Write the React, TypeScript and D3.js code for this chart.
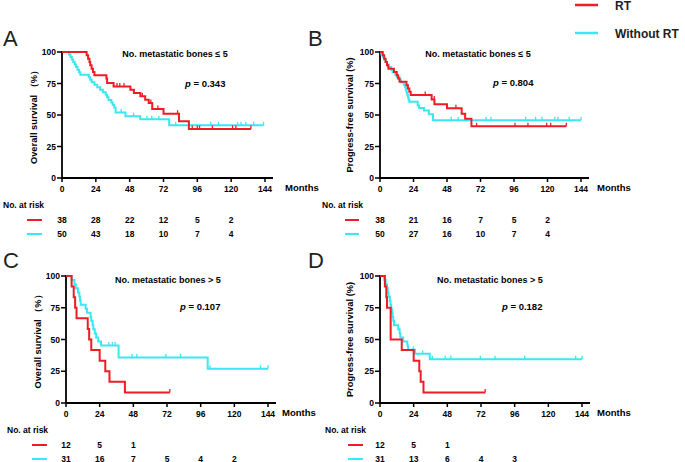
import React from 'react';
import * as d3 from 'd3';

// [month, survival %] after each step; last pair = end of follow-up
const osLowRT = [[0, 100], [17.5, 97.4], [18.5, 94.7], [19.5, 92.1], [20, 89.5], [21, 86.8], [22, 84.2], [23, 81.6], [31.5, 78.9], [32, 75.4], [36.6, 72.7], [48.5, 70], [51, 67.5], [55.6, 64.8], [59, 62.2], [61.5, 59.5], [64, 54.8], [72, 51], [83, 45], [90, 38.9], [134, 38.9]];
const osLowNoRT = [[0, 100], [5, 98], [6, 96], [7, 94], [8, 92], [9, 90], [10, 88], [11, 86], [12, 84], [13, 82], [19, 80], [20, 78], [21, 76], [23, 74], [25, 72], [27, 70], [29, 68], [31, 66], [32, 64], [33, 62], [35, 60], [36, 58], [37, 56], [38, 52], [45, 49], [55.5, 46.6], [76, 41.8], [143, 41.8]];
const osLowRTCens = [39, 41, 44, 57, 63, 68, 82, 92.4, 96, 97.6, 106.7, 121, 123.3, 134];
const osLowNoRTCens = [42, 50.8, 60.3, 63.7, 68.7, 80.6, 105.5, 111, 124.5, 127, 130.4, 136, 143];

const pfsLowRT = [[0, 100], [2, 97.4], [3, 94.7], [4, 92.1], [5, 89.5], [6, 86.8], [10, 84.2], [12, 81.6], [13, 78.9], [14, 76.3], [19, 73.7], [20, 71], [21, 68.4], [22, 65.8], [37, 62.4], [39, 58.5], [48, 55.3], [58.5, 51], [61, 47], [65.5, 41], [133.5, 41]];
const pfsLowNoRT = [[0, 100], [1, 98], [2, 96], [3, 94], [4, 92], [5, 90], [6, 88], [8, 86], [9, 84], [11, 82], [12, 80], [14, 78], [15, 76], [17, 74], [18, 72], [18.5, 70], [19, 68], [19.5, 66], [20, 64], [20.5, 62], [21, 60.5], [27, 57.5], [28, 55.5], [31.5, 53.5], [35, 50.5], [38, 45.8], [144, 45.8]];
const pfsLowRTCens = [32.4, 38.9, 54.4, 69.2, 96.7, 106, 119.4, 122.3, 133.5];
const pfsLowNoRTCens = [51, 56, 76, 79.5, 104.4, 111.5, 116, 125.2, 127.5, 135.5, 144];

const osHighRT = [[0, 100], [4, 91.7], [5.5, 83.3], [6.5, 75], [7.5, 66.7], [15.5, 58.3], [16.5, 50], [18, 41.7], [24, 33.3], [28, 25], [31, 16.7], [42, 8.3], [74, 8.3]];
const osHighNoRT = [[0, 100], [4, 96.8], [6, 93.5], [7, 90.3], [8.5, 87.1], [9.5, 83.9], [10, 80.6], [10.5, 77.4], [14, 74.2], [15, 71], [17.5, 67.7], [18, 64.5], [19, 61.3], [19.5, 58.1], [20.5, 54.8], [21.5, 51.6], [23, 48.4], [25, 45.2], [37.5, 35.9], [101, 26.9], [144, 26.9]];
const osHighRTCens = [74];
const osHighNoRTCens = [30.5, 33, 35, 47, 50.5, 71.2, 81.6, 102.6, 138.7, 144];

const pfsHighRT = [[0, 100], [3.5, 91.7], [4.5, 83.3], [5, 75], [7.6, 50], [15.5, 41.7], [24, 33.3], [28, 25], [29, 16.7], [31, 8.3], [75, 8.3]];
const pfsHighNoRT = [[0, 100], [3, 96.8], [4, 93.5], [5, 90.3], [5.5, 87.1], [6, 83.9], [7, 80.6], [7.5, 77.4], [8, 74.2], [8.5, 71], [9, 67.7], [9.5, 64.5], [10, 61.3], [13, 58.1], [14, 54.8], [14.5, 51.6], [16.5, 48.4], [19.5, 45.2], [20, 41.9], [25, 38.7], [35.5, 34.4], [144, 34.4]];
const pfsHighRTCens = [75];
const pfsHighNoRTCens = [23.8, 30.4, 37.3, 46.5, 50.5, 71.5, 82, 103.2, 139.5, 144];

const riskTimes = [0, 24, 48, 72, 96, 120];
const riskOsLowRT = [38, 28, 22, 12, 5, 2];
const riskOsLowNoRT = [50, 43, 18, 10, 7, 4];
const riskPfsLowRT = [38, 21, 16, 7, 5, 2];
const riskPfsLowNoRT = [50, 27, 16, 10, 7, 4];
const riskOsHighRT = [12, 5, 1];
const riskOsHighNoRT = [31, 16, 7, 5, 4, 2];
const riskPfsHighRT = [12, 5, 1];
const riskPfsHighNoRT = [31, 13, 6, 4, 3];

const xTicks = [0, 24, 48, 72, 96, 120, 144];
const yTicks = [0, 25, 50, 75, 100];
const seriesNames = ['RT', 'Without RT'];

const RED = '#ee1d25';
const CYAN = '#3ce6f2';
const FONT = '"Liberation Sans", Arial, sans-serif';

const panels = [
  {
    letter: 'A', letterX: 3, letterY: 46, xRange: [62, 265], yRange: [178, 52],
    title: 'No. metastatic bones ≤ 5', titleX: 175, titleY: 57, p: '0.343', pX: 185, pY: 87,
    yLabel: 'Overall survival （%）', yLabelX: 34, monthsX: 285,
    riskX: 3, riskY: 208, rowY: [220, 234], lineX: [27, 42],
    rt: osLowRT, no: osLowNoRT, rtC: osLowRTCens, noC: osLowNoRTCens, rtRisk: riskOsLowRT, noRisk: riskOsLowNoRT,
  },
  {
    letter: 'B', letterX: 308, letterY: 46, xRange: [380, 581], yRange: [178, 52],
    title: 'No. metastatic bones ≤ 5', titleX: 478, titleY: 57, p: '0.804', pX: 493, pY: 86,
    yLabel: 'Progress-free survival (%)', yLabelX: 350, monthsX: 597,
    riskX: 322, riskY: 208, rowY: [220, 234], lineX: [345, 359],
    rt: pfsLowRT, no: pfsLowNoRT, rtC: pfsLowRTCens, noC: pfsLowNoRTCens, rtRisk: riskPfsLowRT, noRisk: riskPfsLowNoRT,
  },
  {
    letter: 'C', letterX: 3, letterY: 268, xRange: [66, 268], yRange: [403, 276],
    title: 'No. metastatic bones > 5', titleX: 168, titleY: 283, p: '0.107', pX: 180, pY: 310,
    yLabel: 'Overall survival （%）', yLabelX: 38, monthsX: 282,
    riskX: 7, riskY: 433, rowY: [445, 459], lineX: [32, 47],
    rt: osHighRT, no: osHighNoRT, rtC: osHighRTCens, noC: osHighNoRTCens, rtRisk: riskOsHighRT, noRisk: riskOsHighNoRT,
  },
  {
    letter: 'D', letterX: 308, letterY: 268, xRange: [380, 582], yRange: [403, 276],
    title: 'No. metastatic bones > 5', titleX: 490, titleY: 283, p: '0.182', pX: 502, pY: 310,
    yLabel: 'Progress-free survival (%)', yLabelX: 350, monthsX: 597,
    riskX: 325, riskY: 433, rowY: [445, 459], lineX: [348, 363],
    rt: pfsHighRT, no: pfsHighNoRT, rtC: pfsHighRTCens, noC: pfsHighNoRTCens, rtRisk: riskPfsHighRT, noRisk: riskPfsHighNoRT,
  },
];

function survAt(steps: number[][], t: number) {
  let s = steps[0][1];
  for (const [m, v] of steps) if (m <= t) s = v;
  return s;
}

function Panel({ cfg }: { cfg: any }) {
  const x = d3.scaleLinear().domain([0, 144]).range(cfg.xRange);
  const y = d3.scaleLinear().domain([0, 100]).range(cfg.yRange);
  const line = d3.line<number[]>().x(d => x(d[0])).y(d => y(d[1])).curve(d3.curveStepAfter);
  const x0 = cfg.xRange[0];
  const yBot = cfg.yRange[0];
  const yMid = (cfg.yRange[0] + cfg.yRange[1]) / 2;

  const curves = [
    { steps: cfg.no, cens: cfg.noC, color: CYAN },
    { steps: cfg.rt, cens: cfg.rtC, color: RED },
  ];

  return (
    <g fontFamily={FONT}>
      <text x={cfg.letterX} y={cfg.letterY} fontSize={22} fill="#222">{cfg.letter}</text>
      {/* axes */}
      <line x1={x0} x2={x0} y1={y(100) - 1} y2={yBot + 1} stroke="#000" strokeWidth={1.8} />
      <line x1={x0 - 1} x2={x(144) + 8} y1={yBot} y2={yBot} stroke="#000" strokeWidth={1.8} />
      {yTicks.map(t => (
        <g key={'y' + t}>
          <line x1={x0 - 5} x2={x0} y1={y(t)} y2={y(t)} stroke="#000" strokeWidth={1.5} />
          <text x={x0 - 6} y={y(t) + 3} fontSize={8.5} fontWeight="bold" textAnchor="end">{t}</text>
        </g>
      ))}
      {xTicks.map(t => (
        <g key={'x' + t}>
          <line x1={x(t)} x2={x(t)} y1={yBot} y2={yBot + 4} stroke="#000" strokeWidth={1.5} />
          <text x={x(t)} y={yBot + 14} fontSize={8.5} fontWeight="bold" textAnchor="middle">{t}</text>
        </g>
      ))}
      <text x={cfg.monthsX} y={yBot + 13} fontSize={9.5} fontWeight="bold">Months</text>
      <text transform={`translate(${cfg.yLabelX + 3},${yMid}) rotate(-90)`} fontSize={9.3} fontWeight="bold" textAnchor="middle">{cfg.yLabel}</text>
      <text x={cfg.titleX} y={cfg.titleY} fontSize={9} fontWeight="bold" textAnchor="middle">{cfg.title}</text>
      <text x={cfg.pX} y={cfg.pY} fontSize={9.5} fontWeight="bold">
        <tspan fontStyle="italic">p</tspan> = {cfg.p}
      </text>
      {/* curves */}
      {curves.map((c, i) => (
        <g key={i}>
          <path d={line(c.steps) || ''} fill="none" stroke={c.color} strokeWidth={2} />
          {c.cens.map((t: number, j: number) => (
            <line key={j} x1={x(t)} x2={x(t)} y1={y(survAt(c.steps, t)) - 3.5} y2={y(survAt(c.steps, t))} stroke={c.color} strokeWidth={1.3} />
          ))}
        </g>
      ))}
      {/* number at risk */}
      <text x={cfg.riskX} y={cfg.riskY} fontSize={8.5} fontWeight="bold">No. at  risk</text>
      {[{ vals: cfg.rtRisk, color: RED }, { vals: cfg.noRisk, color: CYAN }].map((r, i) => (
        <g key={'r' + i}>
          <line x1={cfg.lineX[0]} x2={cfg.lineX[1]} y1={cfg.rowY[i]} y2={cfg.rowY[i]} stroke={r.color} strokeWidth={2} />
          {r.vals.map((v: number, j: number) => (
            <text key={j} x={x(riskTimes[j])} y={cfg.rowY[i] + 3} fontSize={8.5} fontWeight="bold" textAnchor="middle">{v}</text>
          ))}
        </g>
      ))}
    </g>
  );
}

export default function App() {
  return (
    <svg width={685} height={462} style={{ position: 'absolute', left: 0, top: 0, background: '#fff' }}>
      <rect width={685} height={462} fill="#fff" />
      {panels.map(p => <Panel key={p.letter} cfg={p} />)}
      <g fontFamily={FONT}>
        {seriesNames.map((name, i) => (
          <g key={name}>
            <line x1={575} x2={598} y1={5 + i * 28} y2={5 + i * 28} stroke={i === 0 ? RED : CYAN} strokeWidth={2.5} />
            <text x={615} y={9.5 + i * 28} fontSize={12} fontWeight="bold" fill="#222">{name}</text>
          </g>
        ))}
      </g>
    </svg>
  );
}
